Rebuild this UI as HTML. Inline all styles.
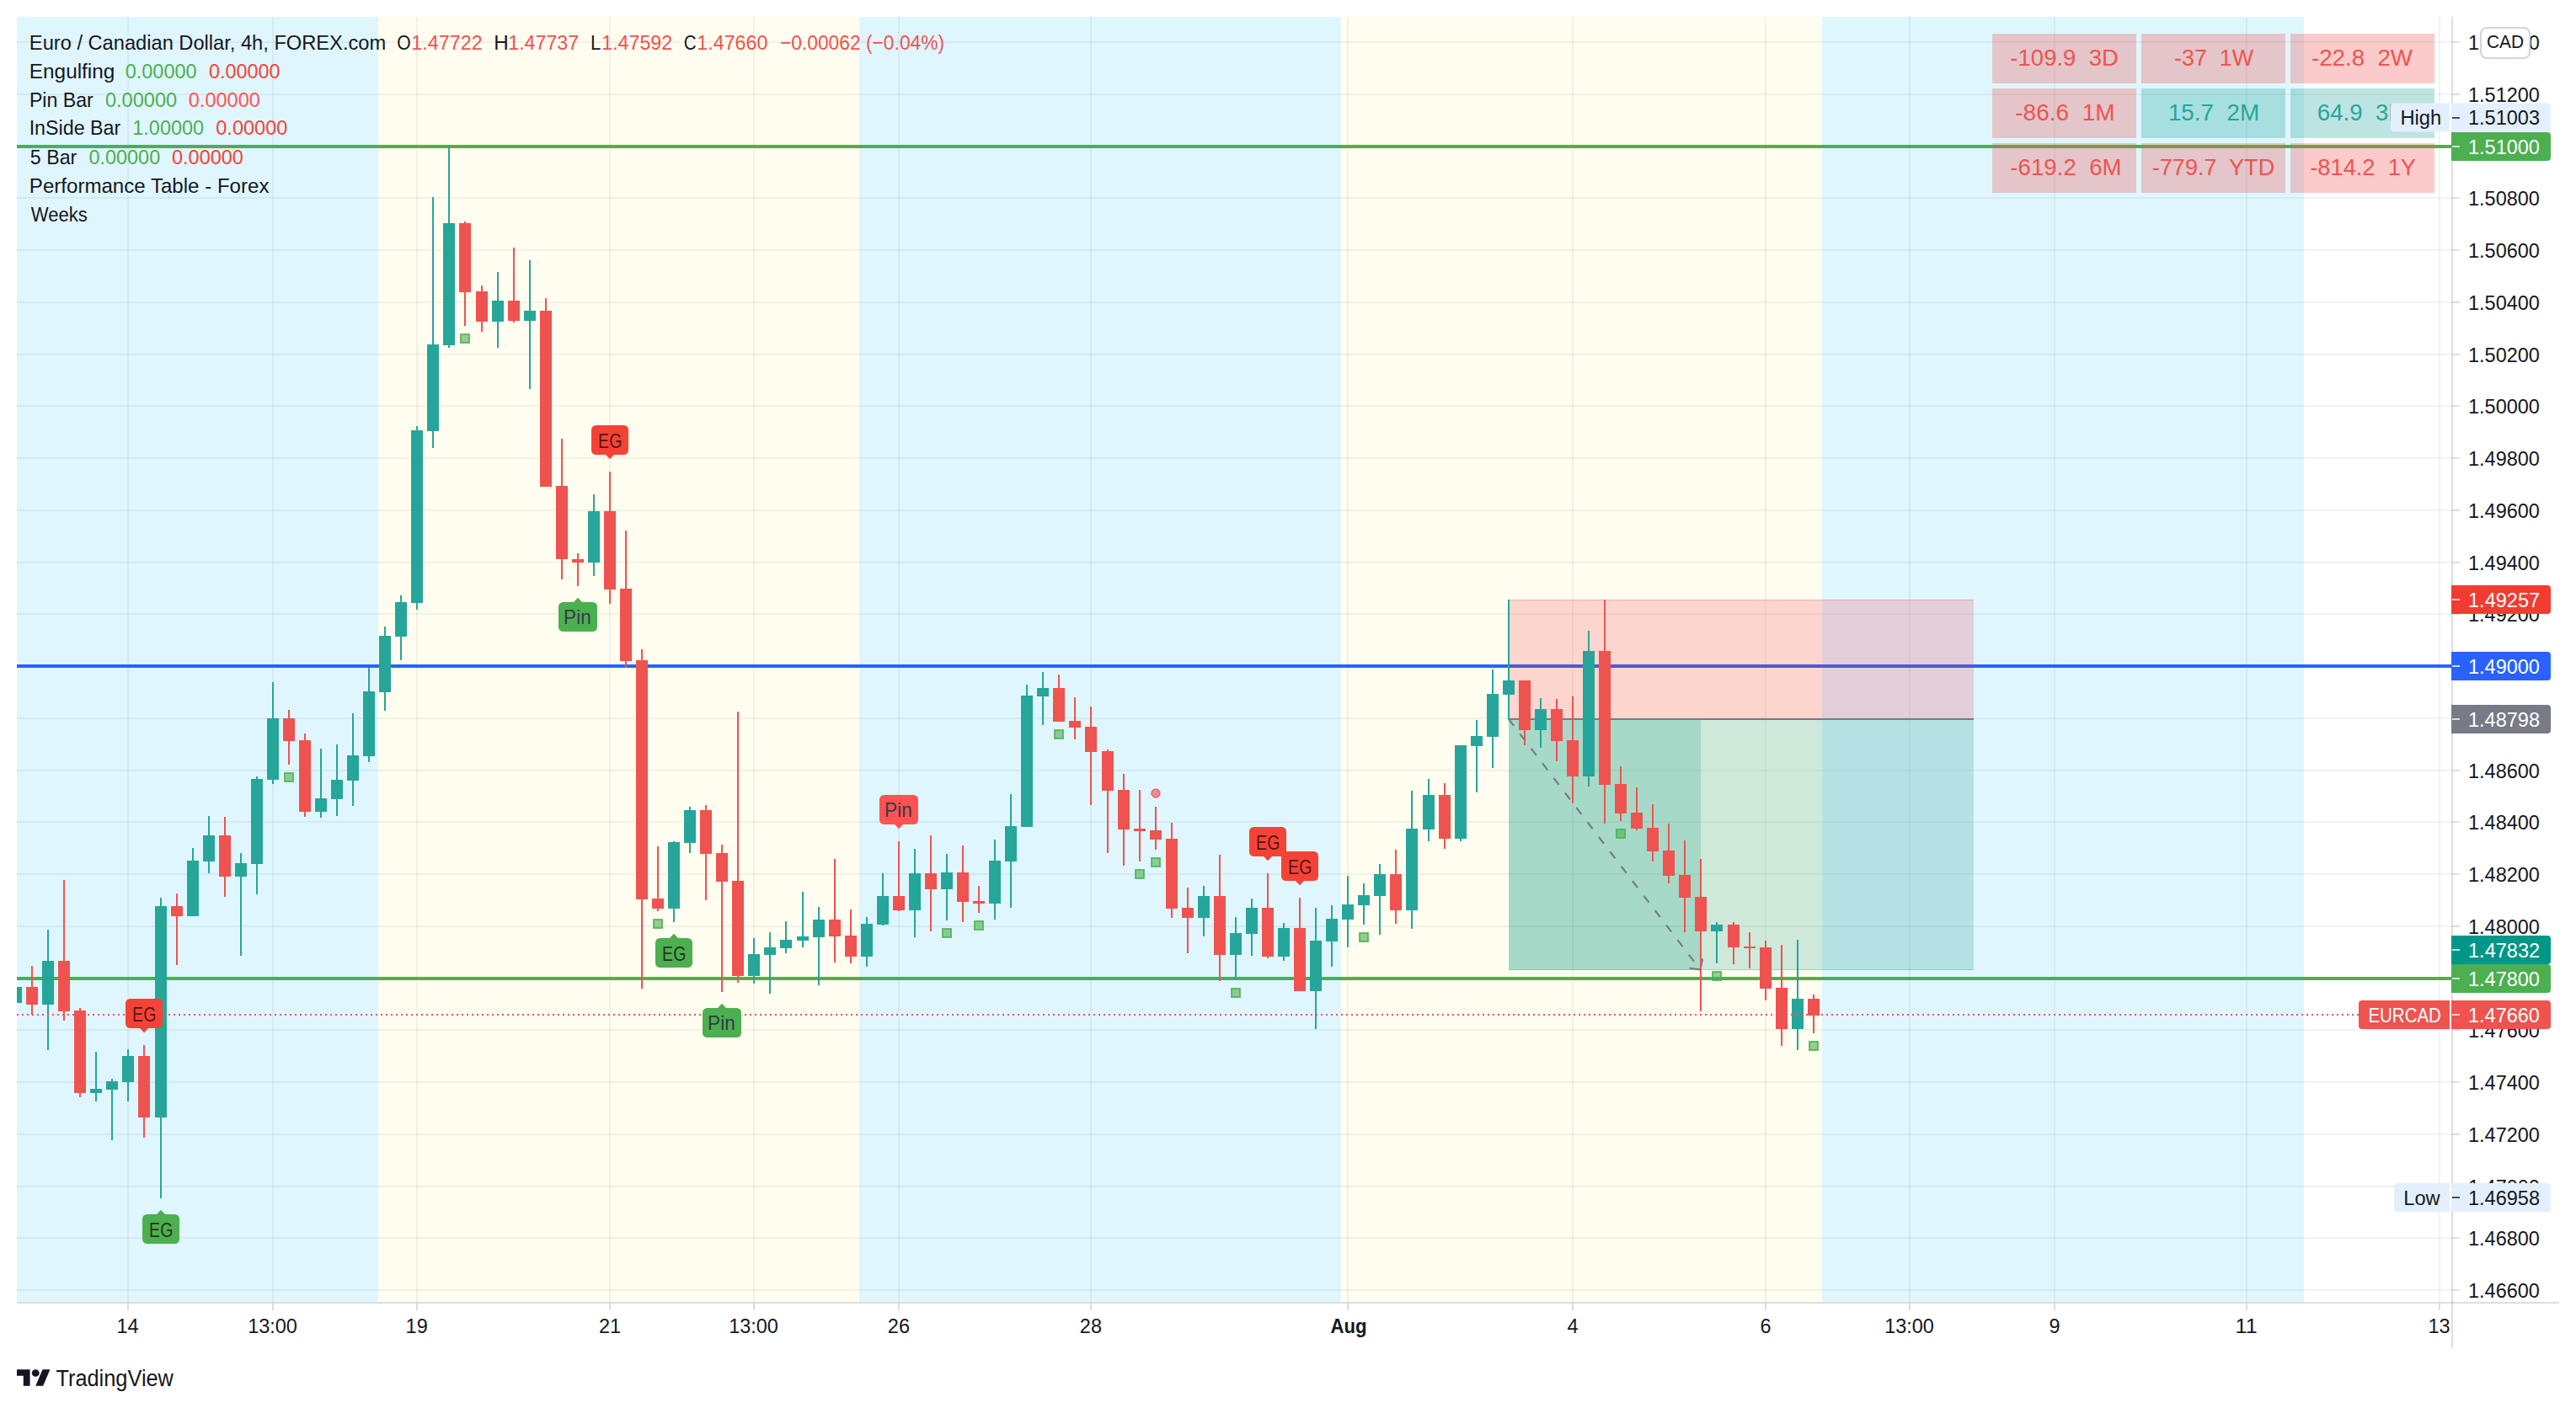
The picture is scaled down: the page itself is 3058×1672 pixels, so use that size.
<!DOCTYPE html>
<html lang="en"><head><meta charset="utf-8"><title>EURCAD 4h chart</title>
<style>html,body{margin:0;padding:0;background:#fff}svg{display:block}</style></head>
<body>
<svg width="3058" height="1672" viewBox="0 0 3058 1672" font-family='"Liberation Sans", "DejaVu Sans", sans-serif'>
<defs><clipPath id="pane"><rect x="20" y="20" width="2891" height="1526"/></clipPath></defs>
<rect width="3058" height="1672" fill="#fff"/>
<g shape-rendering="crispEdges">
<rect x="20" y="20" width="429" height="1526" fill="#e0f6fe"/>
<rect x="449" y="20" width="571" height="1526" fill="#fffdf0"/>
<rect x="1020" y="20" width="572" height="1526" fill="#e0f6fe"/>
<rect x="1592" y="20" width="571" height="1526" fill="#fffdf0"/>
<rect x="2163" y="20" width="572" height="1526" fill="#e0f6fe"/>
<rect x="20" y="49" width="2892" height="2" fill="rgba(42,46,57,0.06)"/>
<rect x="20" y="111" width="2892" height="2" fill="rgba(42,46,57,0.06)"/>
<rect x="20" y="173" width="2892" height="2" fill="rgba(42,46,57,0.06)"/>
<rect x="20" y="234" width="2892" height="2" fill="rgba(42,46,57,0.06)"/>
<rect x="20" y="296" width="2892" height="2" fill="rgba(42,46,57,0.06)"/>
<rect x="20" y="358" width="2892" height="2" fill="rgba(42,46,57,0.06)"/>
<rect x="20" y="420" width="2892" height="2" fill="rgba(42,46,57,0.06)"/>
<rect x="20" y="481" width="2892" height="2" fill="rgba(42,46,57,0.06)"/>
<rect x="20" y="543" width="2892" height="2" fill="rgba(42,46,57,0.06)"/>
<rect x="20" y="605" width="2892" height="2" fill="rgba(42,46,57,0.06)"/>
<rect x="20" y="667" width="2892" height="2" fill="rgba(42,46,57,0.06)"/>
<rect x="20" y="728" width="2892" height="2" fill="rgba(42,46,57,0.06)"/>
<rect x="20" y="790" width="2892" height="2" fill="rgba(42,46,57,0.06)"/>
<rect x="20" y="852" width="2892" height="2" fill="rgba(42,46,57,0.06)"/>
<rect x="20" y="914" width="2892" height="2" fill="rgba(42,46,57,0.06)"/>
<rect x="20" y="975" width="2892" height="2" fill="rgba(42,46,57,0.06)"/>
<rect x="20" y="1037" width="2892" height="2" fill="rgba(42,46,57,0.06)"/>
<rect x="20" y="1099" width="2892" height="2" fill="rgba(42,46,57,0.06)"/>
<rect x="20" y="1161" width="2892" height="2" fill="rgba(42,46,57,0.06)"/>
<rect x="20" y="1222" width="2892" height="2" fill="rgba(42,46,57,0.06)"/>
<rect x="20" y="1284" width="2892" height="2" fill="rgba(42,46,57,0.06)"/>
<rect x="20" y="1346" width="2892" height="2" fill="rgba(42,46,57,0.06)"/>
<rect x="20" y="1408" width="2892" height="2" fill="rgba(42,46,57,0.06)"/>
<rect x="20" y="1469" width="2892" height="2" fill="rgba(42,46,57,0.06)"/>
<rect x="20" y="1531" width="2892" height="2" fill="rgba(42,46,57,0.06)"/>
<rect x="151" y="20" width="2" height="1528" fill="rgba(42,46,57,0.06)"/>
<rect x="323" y="20" width="2" height="1528" fill="rgba(42,46,57,0.06)"/>
<rect x="494" y="20" width="2" height="1528" fill="rgba(42,46,57,0.06)"/>
<rect x="723" y="20" width="2" height="1528" fill="rgba(42,46,57,0.06)"/>
<rect x="894" y="20" width="2" height="1528" fill="rgba(42,46,57,0.06)"/>
<rect x="1066" y="20" width="2" height="1528" fill="rgba(42,46,57,0.06)"/>
<rect x="1294" y="20" width="2" height="1528" fill="rgba(42,46,57,0.06)"/>
<rect x="1599" y="20" width="2" height="1528" fill="rgba(42,46,57,0.06)"/>
<rect x="1866" y="20" width="2" height="1528" fill="rgba(42,46,57,0.06)"/>
<rect x="2095" y="20" width="2" height="1528" fill="rgba(42,46,57,0.06)"/>
<rect x="2266" y="20" width="2" height="1528" fill="rgba(42,46,57,0.06)"/>
<rect x="2438" y="20" width="2" height="1528" fill="rgba(42,46,57,0.06)"/>
<rect x="2666" y="20" width="2" height="1528" fill="rgba(42,46,57,0.06)"/>
<rect x="2895" y="20" width="2" height="1528" fill="rgba(42,46,57,0.06)"/>
<rect x="20" y="172" width="2891" height="4" fill="#4caf50"/>
<rect x="20" y="789" width="2891" height="4" fill="#2962ff"/>
<rect x="20" y="1160" width="2891" height="4" fill="#4caf50"/>
<rect x="1791" y="712" width="552" height="142" fill="rgba(242,54,69,0.2)"/>
<rect x="1791" y="712" width="552" height="1" fill="rgba(242,54,69,0.25)"/>
<rect x="1791" y="854" width="552" height="298" fill="rgba(8,153,129,0.2)"/>
<rect x="1791" y="854" width="228" height="298" fill="rgba(8,153,129,0.2)"/>
<rect x="1791" y="1151" width="552" height="1" fill="rgba(8,153,129,0.25)"/>
<rect x="1791" y="853" width="552" height="2" fill="#787b86"/>
</g>
<path d="M1791 854 L2018.5 1151.5" stroke="#787b86" stroke-width="2.2" stroke-dasharray="10 12" fill="none"/>
<path d="M2005.5 1149.5 L2018.5 1151.5 L2021 1138.5" stroke="#787b86" stroke-width="2.2" fill="none"/>
<g clip-path="url(#pane)" shape-rendering="crispEdges">
<rect x="18" y="1172" width="2" height="19" fill="#26a69a"/>
<rect x="12" y="1172" width="14" height="19" fill="#26a69a"/>
<rect x="37" y="1147" width="2" height="58" fill="#ef5350"/>
<rect x="31" y="1172" width="14" height="21" fill="#ef5350"/>
<rect x="56" y="1104" width="2" height="143" fill="#26a69a"/>
<rect x="50" y="1141" width="14" height="52" fill="#26a69a"/>
<rect x="75" y="1045" width="2" height="167" fill="#ef5350"/>
<rect x="69" y="1141" width="14" height="60" fill="#ef5350"/>
<rect x="94" y="1197" width="2" height="106" fill="#ef5350"/>
<rect x="88" y="1200" width="14" height="98" fill="#ef5350"/>
<rect x="113" y="1249" width="2" height="59" fill="#26a69a"/>
<rect x="107" y="1293" width="14" height="5" fill="#26a69a"/>
<rect x="132" y="1281" width="2" height="73" fill="#26a69a"/>
<rect x="126" y="1284" width="14" height="10" fill="#26a69a"/>
<rect x="151" y="1246" width="2" height="62" fill="#26a69a"/>
<rect x="145" y="1254" width="14" height="31" fill="#26a69a"/>
<rect x="170" y="1241" width="2" height="110" fill="#ef5350"/>
<rect x="164" y="1254" width="14" height="73" fill="#ef5350"/>
<rect x="190" y="1066" width="2" height="357" fill="#26a69a"/>
<rect x="184" y="1076" width="14" height="251" fill="#26a69a"/>
<rect x="209" y="1061" width="2" height="85" fill="#ef5350"/>
<rect x="203" y="1076" width="14" height="12" fill="#ef5350"/>
<rect x="228" y="1007" width="2" height="81" fill="#26a69a"/>
<rect x="222" y="1022" width="14" height="66" fill="#26a69a"/>
<rect x="247" y="969" width="2" height="68" fill="#26a69a"/>
<rect x="241" y="992" width="14" height="31" fill="#26a69a"/>
<rect x="266" y="970" width="2" height="95" fill="#ef5350"/>
<rect x="260" y="992" width="14" height="49" fill="#ef5350"/>
<rect x="285" y="1013" width="2" height="122" fill="#26a69a"/>
<rect x="279" y="1025" width="14" height="16" fill="#26a69a"/>
<rect x="304" y="922" width="2" height="140" fill="#26a69a"/>
<rect x="298" y="925" width="14" height="101" fill="#26a69a"/>
<rect x="323" y="810" width="2" height="121" fill="#26a69a"/>
<rect x="317" y="853" width="14" height="73" fill="#26a69a"/>
<rect x="342" y="843" width="2" height="65" fill="#ef5350"/>
<rect x="336" y="853" width="14" height="27" fill="#ef5350"/>
<rect x="361" y="871" width="2" height="99" fill="#ef5350"/>
<rect x="355" y="879" width="14" height="85" fill="#ef5350"/>
<rect x="380" y="889" width="2" height="82" fill="#26a69a"/>
<rect x="374" y="948" width="14" height="16" fill="#26a69a"/>
<rect x="399" y="884" width="2" height="85" fill="#26a69a"/>
<rect x="393" y="926" width="14" height="23" fill="#26a69a"/>
<rect x="418" y="847" width="2" height="110" fill="#26a69a"/>
<rect x="412" y="897" width="14" height="30" fill="#26a69a"/>
<rect x="437" y="793" width="2" height="112" fill="#26a69a"/>
<rect x="431" y="821" width="14" height="77" fill="#26a69a"/>
<rect x="456" y="744" width="2" height="100" fill="#26a69a"/>
<rect x="450" y="755" width="14" height="67" fill="#26a69a"/>
<rect x="475" y="707" width="2" height="77" fill="#26a69a"/>
<rect x="469" y="715" width="14" height="41" fill="#26a69a"/>
<rect x="494" y="506" width="2" height="218" fill="#26a69a"/>
<rect x="488" y="511" width="14" height="205" fill="#26a69a"/>
<rect x="513" y="234" width="2" height="298" fill="#26a69a"/>
<rect x="507" y="409" width="14" height="103" fill="#26a69a"/>
<rect x="532" y="173" width="2" height="240" fill="#26a69a"/>
<rect x="526" y="265" width="14" height="145" fill="#26a69a"/>
<rect x="551" y="263" width="2" height="124" fill="#ef5350"/>
<rect x="545" y="265" width="14" height="82" fill="#ef5350"/>
<rect x="571" y="339" width="2" height="55" fill="#ef5350"/>
<rect x="565" y="346" width="14" height="36" fill="#ef5350"/>
<rect x="590" y="323" width="2" height="90" fill="#26a69a"/>
<rect x="584" y="357" width="14" height="25" fill="#26a69a"/>
<rect x="609" y="294" width="2" height="89" fill="#ef5350"/>
<rect x="603" y="357" width="14" height="24" fill="#ef5350"/>
<rect x="628" y="309" width="2" height="153" fill="#26a69a"/>
<rect x="622" y="369" width="14" height="12" fill="#26a69a"/>
<rect x="647" y="354" width="2" height="224" fill="#ef5350"/>
<rect x="641" y="369" width="14" height="209" fill="#ef5350"/>
<rect x="666" y="521" width="2" height="167" fill="#ef5350"/>
<rect x="660" y="577" width="14" height="87" fill="#ef5350"/>
<rect x="685" y="657" width="2" height="39" fill="#ef5350"/>
<rect x="679" y="664" width="14" height="4" fill="#ef5350"/>
<rect x="704" y="587" width="2" height="97" fill="#26a69a"/>
<rect x="698" y="607" width="14" height="61" fill="#26a69a"/>
<rect x="723" y="560" width="2" height="157" fill="#ef5350"/>
<rect x="717" y="607" width="14" height="93" fill="#ef5350"/>
<rect x="742" y="630" width="2" height="163" fill="#ef5350"/>
<rect x="736" y="699" width="14" height="86" fill="#ef5350"/>
<rect x="761" y="771" width="2" height="403" fill="#ef5350"/>
<rect x="755" y="784" width="14" height="284" fill="#ef5350"/>
<rect x="780" y="1005" width="2" height="77" fill="#ef5350"/>
<rect x="774" y="1067" width="14" height="12" fill="#ef5350"/>
<rect x="799" y="999" width="2" height="96" fill="#26a69a"/>
<rect x="793" y="1000" width="14" height="79" fill="#26a69a"/>
<rect x="818" y="958" width="2" height="55" fill="#26a69a"/>
<rect x="812" y="962" width="14" height="39" fill="#26a69a"/>
<rect x="837" y="956" width="2" height="113" fill="#ef5350"/>
<rect x="831" y="962" width="14" height="52" fill="#ef5350"/>
<rect x="856" y="1003" width="2" height="175" fill="#ef5350"/>
<rect x="850" y="1013" width="14" height="34" fill="#ef5350"/>
<rect x="875" y="845" width="2" height="322" fill="#ef5350"/>
<rect x="869" y="1046" width="14" height="113" fill="#ef5350"/>
<rect x="894" y="1114" width="2" height="54" fill="#26a69a"/>
<rect x="888" y="1133" width="14" height="26" fill="#26a69a"/>
<rect x="913" y="1107" width="2" height="73" fill="#26a69a"/>
<rect x="907" y="1125" width="14" height="9" fill="#26a69a"/>
<rect x="932" y="1094" width="2" height="38" fill="#26a69a"/>
<rect x="926" y="1116" width="14" height="10" fill="#26a69a"/>
<rect x="952" y="1059" width="2" height="66" fill="#26a69a"/>
<rect x="946" y="1112" width="14" height="5" fill="#26a69a"/>
<rect x="971" y="1077" width="2" height="93" fill="#26a69a"/>
<rect x="965" y="1092" width="14" height="21" fill="#26a69a"/>
<rect x="990" y="1020" width="2" height="123" fill="#ef5350"/>
<rect x="984" y="1092" width="14" height="20" fill="#ef5350"/>
<rect x="1009" y="1080" width="2" height="64" fill="#ef5350"/>
<rect x="1003" y="1111" width="14" height="25" fill="#ef5350"/>
<rect x="1028" y="1089" width="2" height="59" fill="#26a69a"/>
<rect x="1022" y="1097" width="14" height="39" fill="#26a69a"/>
<rect x="1047" y="1037" width="2" height="62" fill="#26a69a"/>
<rect x="1041" y="1064" width="14" height="34" fill="#26a69a"/>
<rect x="1066" y="999" width="2" height="83" fill="#ef5350"/>
<rect x="1060" y="1064" width="14" height="17" fill="#ef5350"/>
<rect x="1085" y="1008" width="2" height="105" fill="#26a69a"/>
<rect x="1079" y="1037" width="14" height="44" fill="#26a69a"/>
<rect x="1104" y="992" width="2" height="114" fill="#ef5350"/>
<rect x="1098" y="1037" width="14" height="19" fill="#ef5350"/>
<rect x="1123" y="1014" width="2" height="79" fill="#26a69a"/>
<rect x="1117" y="1036" width="14" height="20" fill="#26a69a"/>
<rect x="1142" y="1004" width="2" height="91" fill="#ef5350"/>
<rect x="1136" y="1036" width="14" height="35" fill="#ef5350"/>
<rect x="1161" y="1052" width="2" height="32" fill="#ef5350"/>
<rect x="1155" y="1070" width="14" height="3" fill="#ef5350"/>
<rect x="1180" y="997" width="2" height="95" fill="#26a69a"/>
<rect x="1174" y="1022" width="14" height="51" fill="#26a69a"/>
<rect x="1199" y="943" width="2" height="135" fill="#26a69a"/>
<rect x="1193" y="981" width="14" height="42" fill="#26a69a"/>
<rect x="1218" y="813" width="2" height="169" fill="#26a69a"/>
<rect x="1212" y="826" width="14" height="156" fill="#26a69a"/>
<rect x="1237" y="798" width="2" height="63" fill="#26a69a"/>
<rect x="1231" y="817" width="14" height="10" fill="#26a69a"/>
<rect x="1256" y="801" width="2" height="56" fill="#ef5350"/>
<rect x="1250" y="817" width="14" height="40" fill="#ef5350"/>
<rect x="1275" y="828" width="2" height="50" fill="#ef5350"/>
<rect x="1269" y="856" width="14" height="8" fill="#ef5350"/>
<rect x="1294" y="839" width="2" height="117" fill="#ef5350"/>
<rect x="1288" y="863" width="14" height="30" fill="#ef5350"/>
<rect x="1314" y="890" width="2" height="123" fill="#ef5350"/>
<rect x="1308" y="892" width="14" height="47" fill="#ef5350"/>
<rect x="1333" y="919" width="2" height="109" fill="#ef5350"/>
<rect x="1327" y="938" width="14" height="47" fill="#ef5350"/>
<rect x="1352" y="938" width="2" height="85" fill="#ef5350"/>
<rect x="1346" y="984" width="14" height="3" fill="#ef5350"/>
<rect x="1371" y="958" width="2" height="51" fill="#ef5350"/>
<rect x="1365" y="986" width="14" height="11" fill="#ef5350"/>
<rect x="1390" y="977" width="2" height="113" fill="#ef5350"/>
<rect x="1384" y="996" width="14" height="83" fill="#ef5350"/>
<rect x="1409" y="1054" width="2" height="78" fill="#ef5350"/>
<rect x="1403" y="1078" width="14" height="12" fill="#ef5350"/>
<rect x="1428" y="1052" width="2" height="60" fill="#26a69a"/>
<rect x="1422" y="1064" width="14" height="26" fill="#26a69a"/>
<rect x="1447" y="1015" width="2" height="150" fill="#ef5350"/>
<rect x="1441" y="1064" width="14" height="70" fill="#ef5350"/>
<rect x="1466" y="1089" width="2" height="74" fill="#26a69a"/>
<rect x="1460" y="1108" width="14" height="26" fill="#26a69a"/>
<rect x="1485" y="1067" width="2" height="68" fill="#26a69a"/>
<rect x="1479" y="1078" width="14" height="31" fill="#26a69a"/>
<rect x="1504" y="1037" width="2" height="101" fill="#ef5350"/>
<rect x="1498" y="1078" width="14" height="58" fill="#ef5350"/>
<rect x="1523" y="1096" width="2" height="45" fill="#26a69a"/>
<rect x="1517" y="1102" width="14" height="34" fill="#26a69a"/>
<rect x="1542" y="1066" width="2" height="111" fill="#ef5350"/>
<rect x="1536" y="1102" width="14" height="75" fill="#ef5350"/>
<rect x="1561" y="1078" width="2" height="144" fill="#26a69a"/>
<rect x="1555" y="1117" width="14" height="60" fill="#26a69a"/>
<rect x="1580" y="1075" width="2" height="73" fill="#26a69a"/>
<rect x="1574" y="1091" width="14" height="27" fill="#26a69a"/>
<rect x="1599" y="1040" width="2" height="85" fill="#26a69a"/>
<rect x="1593" y="1074" width="14" height="18" fill="#26a69a"/>
<rect x="1618" y="1049" width="2" height="49" fill="#26a69a"/>
<rect x="1612" y="1063" width="14" height="12" fill="#26a69a"/>
<rect x="1637" y="1026" width="2" height="84" fill="#26a69a"/>
<rect x="1631" y="1038" width="14" height="26" fill="#26a69a"/>
<rect x="1656" y="1009" width="2" height="88" fill="#ef5350"/>
<rect x="1650" y="1038" width="14" height="43" fill="#ef5350"/>
<rect x="1675" y="939" width="2" height="164" fill="#26a69a"/>
<rect x="1669" y="984" width="14" height="97" fill="#26a69a"/>
<rect x="1695" y="925" width="2" height="74" fill="#26a69a"/>
<rect x="1689" y="944" width="14" height="41" fill="#26a69a"/>
<rect x="1714" y="930" width="2" height="78" fill="#ef5350"/>
<rect x="1708" y="944" width="14" height="52" fill="#ef5350"/>
<rect x="1733" y="885" width="2" height="114" fill="#26a69a"/>
<rect x="1727" y="885" width="14" height="111" fill="#26a69a"/>
<rect x="1752" y="855" width="2" height="86" fill="#26a69a"/>
<rect x="1746" y="874" width="14" height="12" fill="#26a69a"/>
<rect x="1771" y="795" width="2" height="117" fill="#26a69a"/>
<rect x="1765" y="824" width="14" height="51" fill="#26a69a"/>
<rect x="1790" y="712" width="2" height="143" fill="#26a69a"/>
<rect x="1784" y="808" width="14" height="17" fill="#26a69a"/>
<rect x="1809" y="808" width="2" height="77" fill="#ef5350"/>
<rect x="1803" y="808" width="14" height="59" fill="#ef5350"/>
<rect x="1828" y="829" width="2" height="59" fill="#26a69a"/>
<rect x="1822" y="842" width="14" height="25" fill="#26a69a"/>
<rect x="1847" y="830" width="2" height="74" fill="#ef5350"/>
<rect x="1841" y="842" width="14" height="38" fill="#ef5350"/>
<rect x="1866" y="827" width="2" height="127" fill="#ef5350"/>
<rect x="1860" y="879" width="14" height="43" fill="#ef5350"/>
<rect x="1885" y="749" width="2" height="185" fill="#26a69a"/>
<rect x="1879" y="773" width="14" height="149" fill="#26a69a"/>
<rect x="1904" y="712" width="2" height="266" fill="#ef5350"/>
<rect x="1898" y="773" width="14" height="159" fill="#ef5350"/>
<rect x="1923" y="910" width="2" height="65" fill="#ef5350"/>
<rect x="1917" y="931" width="14" height="35" fill="#ef5350"/>
<rect x="1942" y="935" width="2" height="51" fill="#ef5350"/>
<rect x="1936" y="965" width="14" height="19" fill="#ef5350"/>
<rect x="1961" y="955" width="2" height="68" fill="#ef5350"/>
<rect x="1955" y="983" width="14" height="28" fill="#ef5350"/>
<rect x="1980" y="978" width="2" height="71" fill="#ef5350"/>
<rect x="1974" y="1010" width="14" height="30" fill="#ef5350"/>
<rect x="1999" y="998" width="2" height="109" fill="#ef5350"/>
<rect x="1993" y="1039" width="14" height="27" fill="#ef5350"/>
<rect x="2018" y="1020" width="2" height="181" fill="#ef5350"/>
<rect x="2012" y="1065" width="14" height="41" fill="#ef5350"/>
<rect x="2037" y="1095" width="2" height="49" fill="#26a69a"/>
<rect x="2031" y="1098" width="14" height="8" fill="#26a69a"/>
<rect x="2057" y="1095" width="2" height="50" fill="#ef5350"/>
<rect x="2051" y="1098" width="14" height="27" fill="#ef5350"/>
<rect x="2076" y="1107" width="2" height="43" fill="#ef5350"/>
<rect x="2070" y="1124" width="14" height="2" fill="#ef5350"/>
<rect x="2095" y="1117" width="2" height="71" fill="#ef5350"/>
<rect x="2089" y="1125" width="14" height="49" fill="#ef5350"/>
<rect x="2114" y="1122" width="2" height="120" fill="#ef5350"/>
<rect x="2108" y="1173" width="14" height="49" fill="#ef5350"/>
<rect x="2133" y="1116" width="2" height="131" fill="#26a69a"/>
<rect x="2127" y="1186" width="14" height="36" fill="#26a69a"/>
<rect x="2152" y="1181" width="2" height="46" fill="#ef5350"/>
<rect x="2146" y="1186" width="14" height="20" fill="#ef5350"/>
</g>
<path d="M20 1205 H2800" stroke="#ef5350" stroke-width="2" stroke-dasharray="2 4" shape-rendering="crispEdges"/>
<rect x="338" y="918" width="10" height="10" fill="rgba(76,175,80,0.6)" stroke="rgba(76,175,80,0.8)" stroke-width="2"/>
<rect x="547" y="397" width="10" height="10" fill="rgba(76,175,80,0.6)" stroke="rgba(76,175,80,0.8)" stroke-width="2"/>
<rect x="776" y="1092" width="10" height="10" fill="rgba(76,175,80,0.6)" stroke="rgba(76,175,80,0.8)" stroke-width="2"/>
<rect x="1119" y="1103" width="10" height="10" fill="rgba(76,175,80,0.6)" stroke="rgba(76,175,80,0.8)" stroke-width="2"/>
<rect x="1157" y="1094" width="10" height="10" fill="rgba(76,175,80,0.6)" stroke="rgba(76,175,80,0.8)" stroke-width="2"/>
<rect x="1252" y="867" width="10" height="10" fill="rgba(76,175,80,0.6)" stroke="rgba(76,175,80,0.8)" stroke-width="2"/>
<rect x="1348" y="1033" width="10" height="10" fill="rgba(76,175,80,0.6)" stroke="rgba(76,175,80,0.8)" stroke-width="2"/>
<rect x="1367" y="1019" width="10" height="10" fill="rgba(76,175,80,0.6)" stroke="rgba(76,175,80,0.8)" stroke-width="2"/>
<rect x="1462" y="1174" width="10" height="10" fill="rgba(76,175,80,0.6)" stroke="rgba(76,175,80,0.8)" stroke-width="2"/>
<rect x="1614" y="1108" width="10" height="10" fill="rgba(76,175,80,0.6)" stroke="rgba(76,175,80,0.8)" stroke-width="2"/>
<rect x="1919" y="985" width="10" height="10" fill="rgba(76,175,80,0.6)" stroke="rgba(76,175,80,0.8)" stroke-width="2"/>
<rect x="2033" y="1154" width="10" height="10" fill="rgba(76,175,80,0.6)" stroke="rgba(76,175,80,0.8)" stroke-width="2"/>
<rect x="2148" y="1237" width="10" height="10" fill="rgba(76,175,80,0.6)" stroke="rgba(76,175,80,0.8)" stroke-width="2"/>
<circle cx="1372" cy="942" r="5" fill="rgba(239,83,80,0.65)" stroke="rgba(239,83,80,0.8)" stroke-width="1.5"/>
<rect x="149.0" y="1186" width="44" height="35" rx="5.5" fill="#f44336"/>
<path d="M165.5 1220.5 L171 1226.2 L176.5 1220.5 Z" fill="#f44336"/>
<text x="157.1" y="1212.7" font-size="24" fill="rgba(20,0,0,0.72)" style="white-space:pre" textLength="28.27" lengthAdjust="spacingAndGlyphs">EG</text>
<rect x="169.0" y="1442" width="44" height="35" rx="5.5" fill="#4caf50"/>
<path d="M185.5 1442.5 L191 1436.8 L196.5 1442.5 Z" fill="#4caf50"/>
<text x="177.1" y="1468.7" font-size="24" fill="rgba(20,0,0,0.72)" style="white-space:pre" textLength="28.27" lengthAdjust="spacingAndGlyphs">EG</text>
<rect x="702.0" y="505" width="44" height="35" rx="5.5" fill="#f44336"/>
<path d="M718.5 539.5 L724 545.2 L729.5 539.5 Z" fill="#f44336"/>
<text x="710.1" y="531.7" font-size="24" fill="rgba(20,0,0,0.72)" style="white-space:pre" textLength="28.27" lengthAdjust="spacingAndGlyphs">EG</text>
<rect x="663.0" y="715" width="46" height="35" rx="5.5" fill="#4caf50"/>
<path d="M680.5 715.5 L686 709.8 L691.5 715.5 Z" fill="#4caf50"/>
<text x="669.1" y="741.3" font-size="24" fill="#363a45" style="white-space:pre" textLength="32.62" lengthAdjust="spacingAndGlyphs">Pin</text>
<rect x="778.0" y="1114" width="44" height="35" rx="5.5" fill="#4caf50"/>
<path d="M794.5 1114.5 L800 1108.8 L805.5 1114.5 Z" fill="#4caf50"/>
<text x="786.1" y="1140.7" font-size="24" fill="rgba(20,0,0,0.72)" style="white-space:pre" textLength="28.27" lengthAdjust="spacingAndGlyphs">EG</text>
<rect x="834.0" y="1197" width="46" height="35" rx="5.5" fill="#4caf50"/>
<path d="M851.5 1197.5 L857 1191.8 L862.5 1197.5 Z" fill="#4caf50"/>
<text x="840.1" y="1223.3" font-size="24" fill="#363a45" style="white-space:pre" textLength="32.62" lengthAdjust="spacingAndGlyphs">Pin</text>
<rect x="1044.0" y="944" width="46" height="35" rx="5.5" fill="#ff5252"/>
<path d="M1061.5 978.5 L1067 984.2 L1072.5 978.5 Z" fill="#ff5252"/>
<text x="1050.1" y="970.3" font-size="24" fill="#363a45" style="white-space:pre" textLength="32.62" lengthAdjust="spacingAndGlyphs">Pin</text>
<rect x="1483.0" y="982" width="44" height="35" rx="5.5" fill="#f44336"/>
<path d="M1499.5 1016.5 L1505 1022.2 L1510.5 1016.5 Z" fill="#f44336"/>
<text x="1491.1" y="1008.7" font-size="24" fill="rgba(20,0,0,0.72)" style="white-space:pre" textLength="28.27" lengthAdjust="spacingAndGlyphs">EG</text>
<rect x="1521.0" y="1011" width="44" height="35" rx="5.5" fill="#f44336"/>
<path d="M1537.5 1045.5 L1543 1051.2 L1548.5 1045.5 Z" fill="#f44336"/>
<text x="1529.1" y="1037.7" font-size="24" fill="rgba(20,0,0,0.72)" style="white-space:pre" textLength="28.27" lengthAdjust="spacingAndGlyphs">EG</text>
<rect x="2365" y="40" width="171" height="59" fill="rgba(239,83,80,0.3)" shape-rendering="crispEdges"/>
<text x="2386.38" y="78.4" font-size="27" fill="#ef5350" style="white-space:pre" textLength="128.44" lengthAdjust="spacingAndGlyphs">-109.9  3D</text>
<rect x="2542" y="40" width="171" height="59" fill="rgba(239,83,80,0.3)" shape-rendering="crispEdges"/>
<text x="2581.01" y="78.4" font-size="27" fill="#ef5350" style="white-space:pre" textLength="94.09" lengthAdjust="spacingAndGlyphs">-37  1W</text>
<rect x="2719" y="40" width="171" height="59" fill="rgba(239,83,80,0.3)" shape-rendering="crispEdges"/>
<text x="2743.97" y="78.4" font-size="27" fill="#ef5350" style="white-space:pre" textLength="120.02" lengthAdjust="spacingAndGlyphs">-22.8  2W</text>
<rect x="2365" y="105" width="171" height="59" fill="rgba(239,83,80,0.3)" shape-rendering="crispEdges"/>
<text x="2392.26" y="143.4" font-size="27" fill="#ef5350" style="white-space:pre" textLength="118.34" lengthAdjust="spacingAndGlyphs">-86.6  1M</text>
<rect x="2542" y="105" width="171" height="59" fill="rgba(38,166,154,0.3)" shape-rendering="crispEdges"/>
<text x="2573.88" y="143.4" font-size="27" fill="#26a69a" style="white-space:pre" textLength="108.2" lengthAdjust="spacingAndGlyphs">15.7  2M</text>
<rect x="2719" y="105" width="171" height="59" fill="rgba(38,166,154,0.3)" shape-rendering="crispEdges"/>
<text x="2750.8" y="143.4" font-size="27" fill="#26a69a" style="white-space:pre" textLength="107.47" lengthAdjust="spacingAndGlyphs">64.9  3M</text>
<rect x="2365" y="170" width="171" height="59" fill="rgba(239,83,80,0.3)" shape-rendering="crispEdges"/>
<text x="2386.37" y="208.4" font-size="27" fill="#ef5350" style="white-space:pre" textLength="132.2" lengthAdjust="spacingAndGlyphs">-619.2  6M</text>
<rect x="2542" y="170" width="171" height="59" fill="rgba(239,83,80,0.3)" shape-rendering="crispEdges"/>
<text x="2554.8" y="208.4" font-size="27" fill="#ef5350" style="white-space:pre" textLength="145.39" lengthAdjust="spacingAndGlyphs">-779.7  YTD</text>
<rect x="2719" y="170" width="171" height="59" fill="rgba(239,83,80,0.3)" shape-rendering="crispEdges"/>
<text x="2742.29" y="208.4" font-size="27" fill="#ef5350" style="white-space:pre" textLength="125.71" lengthAdjust="spacingAndGlyphs">-814.2  1Y</text>
<rect x="2910" y="20" width="2" height="1581" fill="rgba(40,44,60,0.155)" shape-rendering="crispEdges"/>
<rect x="20" y="1546" width="3018" height="2" fill="rgba(40,44,60,0.155)" shape-rendering="crispEdges"/>
<rect x="2912" y="49" width="8" height="2" fill="rgba(40,44,60,0.155)" shape-rendering="crispEdges"/>
<text x="2930.01" y="58.7" font-size="24.2" fill="#131722" style="white-space:pre" textLength="84.91" lengthAdjust="spacingAndGlyphs">1.51400</text>
<rect x="2912" y="111" width="8" height="2" fill="rgba(40,44,60,0.155)" shape-rendering="crispEdges"/>
<text x="2930.01" y="120.7" font-size="24.2" fill="#131722" style="white-space:pre" textLength="84.91" lengthAdjust="spacingAndGlyphs">1.51200</text>
<rect x="2912" y="173" width="8" height="2" fill="rgba(40,44,60,0.155)" shape-rendering="crispEdges"/>
<text x="2930.01" y="182.7" font-size="24.2" fill="#131722" style="white-space:pre" textLength="84.91" lengthAdjust="spacingAndGlyphs">1.51000</text>
<rect x="2912" y="234" width="8" height="2" fill="rgba(40,44,60,0.155)" shape-rendering="crispEdges"/>
<text x="2930.01" y="243.7" font-size="24.2" fill="#131722" style="white-space:pre" textLength="84.91" lengthAdjust="spacingAndGlyphs">1.50800</text>
<rect x="2912" y="296" width="8" height="2" fill="rgba(40,44,60,0.155)" shape-rendering="crispEdges"/>
<text x="2930.01" y="305.7" font-size="24.2" fill="#131722" style="white-space:pre" textLength="84.91" lengthAdjust="spacingAndGlyphs">1.50600</text>
<rect x="2912" y="358" width="8" height="2" fill="rgba(40,44,60,0.155)" shape-rendering="crispEdges"/>
<text x="2930.01" y="367.7" font-size="24.2" fill="#131722" style="white-space:pre" textLength="84.91" lengthAdjust="spacingAndGlyphs">1.50400</text>
<rect x="2912" y="420" width="8" height="2" fill="rgba(40,44,60,0.155)" shape-rendering="crispEdges"/>
<text x="2930.01" y="429.7" font-size="24.2" fill="#131722" style="white-space:pre" textLength="84.91" lengthAdjust="spacingAndGlyphs">1.50200</text>
<rect x="2912" y="481" width="8" height="2" fill="rgba(40,44,60,0.155)" shape-rendering="crispEdges"/>
<text x="2930.01" y="490.7" font-size="24.2" fill="#131722" style="white-space:pre" textLength="84.91" lengthAdjust="spacingAndGlyphs">1.50000</text>
<rect x="2912" y="543" width="8" height="2" fill="rgba(40,44,60,0.155)" shape-rendering="crispEdges"/>
<text x="2930.01" y="552.7" font-size="24.2" fill="#131722" style="white-space:pre" textLength="84.91" lengthAdjust="spacingAndGlyphs">1.49800</text>
<rect x="2912" y="605" width="8" height="2" fill="rgba(40,44,60,0.155)" shape-rendering="crispEdges"/>
<text x="2930.01" y="614.7" font-size="24.2" fill="#131722" style="white-space:pre" textLength="84.91" lengthAdjust="spacingAndGlyphs">1.49600</text>
<rect x="2912" y="667" width="8" height="2" fill="rgba(40,44,60,0.155)" shape-rendering="crispEdges"/>
<text x="2930.01" y="676.7" font-size="24.2" fill="#131722" style="white-space:pre" textLength="84.91" lengthAdjust="spacingAndGlyphs">1.49400</text>
<rect x="2912" y="728" width="8" height="2" fill="rgba(40,44,60,0.155)" shape-rendering="crispEdges"/>
<text x="2930.01" y="737.7" font-size="24.2" fill="#131722" style="white-space:pre" textLength="84.91" lengthAdjust="spacingAndGlyphs">1.49200</text>
<rect x="2912" y="790" width="8" height="2" fill="rgba(40,44,60,0.155)" shape-rendering="crispEdges"/>
<text x="2930.01" y="799.7" font-size="24.2" fill="#131722" style="white-space:pre" textLength="84.91" lengthAdjust="spacingAndGlyphs">1.49000</text>
<rect x="2912" y="852" width="8" height="2" fill="rgba(40,44,60,0.155)" shape-rendering="crispEdges"/>
<text x="2930.01" y="861.7" font-size="24.2" fill="#131722" style="white-space:pre" textLength="84.91" lengthAdjust="spacingAndGlyphs">1.48800</text>
<rect x="2912" y="914" width="8" height="2" fill="rgba(40,44,60,0.155)" shape-rendering="crispEdges"/>
<text x="2930.01" y="923.7" font-size="24.2" fill="#131722" style="white-space:pre" textLength="84.91" lengthAdjust="spacingAndGlyphs">1.48600</text>
<rect x="2912" y="975" width="8" height="2" fill="rgba(40,44,60,0.155)" shape-rendering="crispEdges"/>
<text x="2930.01" y="984.7" font-size="24.2" fill="#131722" style="white-space:pre" textLength="84.91" lengthAdjust="spacingAndGlyphs">1.48400</text>
<rect x="2912" y="1037" width="8" height="2" fill="rgba(40,44,60,0.155)" shape-rendering="crispEdges"/>
<text x="2930.01" y="1046.7" font-size="24.2" fill="#131722" style="white-space:pre" textLength="84.91" lengthAdjust="spacingAndGlyphs">1.48200</text>
<rect x="2912" y="1099" width="8" height="2" fill="rgba(40,44,60,0.155)" shape-rendering="crispEdges"/>
<text x="2930.01" y="1108.7" font-size="24.2" fill="#131722" style="white-space:pre" textLength="84.91" lengthAdjust="spacingAndGlyphs">1.48000</text>
<rect x="2912" y="1161" width="8" height="2" fill="rgba(40,44,60,0.155)" shape-rendering="crispEdges"/>
<text x="2930.01" y="1170.7" font-size="24.2" fill="#131722" style="white-space:pre" textLength="84.91" lengthAdjust="spacingAndGlyphs">1.47800</text>
<rect x="2912" y="1222" width="8" height="2" fill="rgba(40,44,60,0.155)" shape-rendering="crispEdges"/>
<text x="2930.01" y="1231.7" font-size="24.2" fill="#131722" style="white-space:pre" textLength="84.91" lengthAdjust="spacingAndGlyphs">1.47600</text>
<rect x="2912" y="1284" width="8" height="2" fill="rgba(40,44,60,0.155)" shape-rendering="crispEdges"/>
<text x="2930.01" y="1293.7" font-size="24.2" fill="#131722" style="white-space:pre" textLength="84.91" lengthAdjust="spacingAndGlyphs">1.47400</text>
<rect x="2912" y="1346" width="8" height="2" fill="rgba(40,44,60,0.155)" shape-rendering="crispEdges"/>
<text x="2930.01" y="1355.7" font-size="24.2" fill="#131722" style="white-space:pre" textLength="84.91" lengthAdjust="spacingAndGlyphs">1.47200</text>
<rect x="2912" y="1408" width="8" height="2" fill="rgba(40,44,60,0.155)" shape-rendering="crispEdges"/>
<text x="2930.01" y="1417.7" font-size="24.2" fill="#131722" style="white-space:pre" textLength="84.91" lengthAdjust="spacingAndGlyphs">1.47000</text>
<rect x="2912" y="1469" width="8" height="2" fill="rgba(40,44,60,0.155)" shape-rendering="crispEdges"/>
<text x="2930.01" y="1478.7" font-size="24.2" fill="#131722" style="white-space:pre" textLength="84.91" lengthAdjust="spacingAndGlyphs">1.46800</text>
<rect x="2912" y="1531" width="8" height="2" fill="rgba(40,44,60,0.155)" shape-rendering="crispEdges"/>
<text x="2930.01" y="1540.7" font-size="24.2" fill="#131722" style="white-space:pre" textLength="84.91" lengthAdjust="spacingAndGlyphs">1.46600</text>
<rect x="2945" y="33" width="58" height="36" rx="7" fill="#fff" stroke="#d1d4dc" stroke-width="2"/>
<text x="2951.94" y="56.8" font-size="22" fill="#131722" style="white-space:pre" textLength="44.06" lengthAdjust="spacingAndGlyphs">CAD</text>
<path d="M2910 122.5 H3024 a4 4 0 0 1 4 4 V152.5 a4 4 0 0 1 -4 4 H2910 Z" fill="#e3effd"/>
<rect x="2911" y="138.5" width="9" height="2" fill="#131722" opacity="0.75" shape-rendering="crispEdges"/>
<text x="2930.01" y="148.2" font-size="24.2" fill="#131722" style="white-space:pre" textLength="85.03" lengthAdjust="spacingAndGlyphs">1.51003</text>
<path d="M2908 122.5 H2842 a4 4 0 0 0 -4 4 V152.5 a4 4 0 0 0 4 4 H2908 Z" fill="#e3effd"/>
<text x="2849.4" y="148.2" font-size="24.2" fill="#131722" style="white-space:pre" textLength="48.79" lengthAdjust="spacingAndGlyphs">High</text>
<path d="M2910 157.0 H3024 a4 4 0 0 1 4 4 V187.0 a4 4 0 0 1 -4 4 H2910 Z" fill="#4caf50"/>
<rect x="2911" y="173" width="9" height="2" fill="#fff" opacity="0.75" shape-rendering="crispEdges"/>
<text x="2930.01" y="182.7" font-size="24.2" fill="#fff" style="white-space:pre" textLength="84.91" lengthAdjust="spacingAndGlyphs">1.51000</text>
<path d="M2910 695.0 H3024 a4 4 0 0 1 4 4 V725.0 a4 4 0 0 1 -4 4 H2910 Z" fill="#f23c32"/>
<rect x="2911" y="711" width="9" height="2" fill="#fff" opacity="0.75" shape-rendering="crispEdges"/>
<text x="2930.01" y="720.7" font-size="24.2" fill="#fff" style="white-space:pre" textLength="85.18" lengthAdjust="spacingAndGlyphs">1.49257</text>
<path d="M2910 774.0 H3024 a4 4 0 0 1 4 4 V804.0 a4 4 0 0 1 -4 4 H2910 Z" fill="#2962ff"/>
<rect x="2911" y="790" width="9" height="2" fill="#fff" opacity="0.75" shape-rendering="crispEdges"/>
<text x="2930.01" y="799.7" font-size="24.2" fill="#fff" style="white-space:pre" textLength="84.91" lengthAdjust="spacingAndGlyphs">1.49000</text>
<path d="M2910 837.0 H3024 a4 4 0 0 1 4 4 V867.0 a4 4 0 0 1 -4 4 H2910 Z" fill="#787b86"/>
<rect x="2911" y="853" width="9" height="2" fill="#fff" opacity="0.75" shape-rendering="crispEdges"/>
<text x="2930.01" y="862.7" font-size="24.2" fill="#fff" style="white-space:pre" textLength="85.01" lengthAdjust="spacingAndGlyphs">1.48798</text>
<path d="M2910 1111.0 H3024 a4 4 0 0 1 4 4 V1141.0 a4 4 0 0 1 -4 4 H2910 Z" fill="#009688"/>
<rect x="2911" y="1127" width="9" height="2" fill="#fff" opacity="0.75" shape-rendering="crispEdges"/>
<text x="2930.01" y="1136.7" font-size="24.2" fill="#fff" style="white-space:pre" textLength="85.18" lengthAdjust="spacingAndGlyphs">1.47832</text>
<path d="M2910 1145.0 H3024 a4 4 0 0 1 4 4 V1175.0 a4 4 0 0 1 -4 4 H2910 Z" fill="#4caf50"/>
<rect x="2911" y="1161" width="9" height="2" fill="#fff" opacity="0.75" shape-rendering="crispEdges"/>
<text x="2930.01" y="1170.7" font-size="24.2" fill="#fff" style="white-space:pre" textLength="84.91" lengthAdjust="spacingAndGlyphs">1.47800</text>
<path d="M2910 1188.0 H3024 a4 4 0 0 1 4 4 V1218.0 a4 4 0 0 1 -4 4 H2910 Z" fill="#ef5350"/>
<rect x="2911" y="1204" width="9" height="2" fill="#fff" opacity="0.75" shape-rendering="crispEdges"/>
<text x="2930.01" y="1213.7" font-size="24.2" fill="#fff" style="white-space:pre" textLength="84.91" lengthAdjust="spacingAndGlyphs">1.47660</text>
<path d="M2908 1188.0 H2804 a4 4 0 0 0 -4 4 V1218.0 a4 4 0 0 0 4 4 H2908 Z" fill="#ef5350"/>
<text x="2811.42" y="1213.7" font-size="24.2" fill="#fff" style="white-space:pre" textLength="86.46" lengthAdjust="spacingAndGlyphs">EURCAD</text>
<path d="M2910 1405.0 H3024 a4 4 0 0 1 4 4 V1435.0 a4 4 0 0 1 -4 4 H2910 Z" fill="#e3effd"/>
<rect x="2911" y="1421" width="9" height="2" fill="#131722" opacity="0.75" shape-rendering="crispEdges"/>
<text x="2930.01" y="1430.7" font-size="24.2" fill="#131722" style="white-space:pre" textLength="85.01" lengthAdjust="spacingAndGlyphs">1.46958</text>
<path d="M2908 1405.0 H2846 a4 4 0 0 0 -4 4 V1435.0 a4 4 0 0 0 4 4 H2908 Z" fill="#e3effd"/>
<text x="2853.31" y="1430.7" font-size="24.2" fill="#131722" style="white-space:pre" textLength="43.38" lengthAdjust="spacingAndGlyphs">Low</text>
<rect x="151" y="1548" width="2" height="8" fill="rgba(40,44,60,0.155)" shape-rendering="crispEdges"/>
<text x="138.39" y="1582.8" font-size="24.2" fill="#131722" style="white-space:pre" textLength="26.11" lengthAdjust="spacingAndGlyphs">14</text>
<rect x="323" y="1548" width="2" height="8" fill="rgba(40,44,60,0.155)" shape-rendering="crispEdges"/>
<text x="294.19" y="1582.8" font-size="24.2" fill="#131722" style="white-space:pre" textLength="58.74" lengthAdjust="spacingAndGlyphs">13:00</text>
<rect x="494" y="1548" width="2" height="8" fill="rgba(40,44,60,0.155)" shape-rendering="crispEdges"/>
<text x="481.61" y="1582.8" font-size="24.2" fill="#131722" style="white-space:pre" textLength="26.11" lengthAdjust="spacingAndGlyphs">19</text>
<rect x="723" y="1548" width="2" height="8" fill="rgba(40,44,60,0.155)" shape-rendering="crispEdges"/>
<text x="710.93" y="1582.8" font-size="24.2" fill="#131722" style="white-space:pre" textLength="26.11" lengthAdjust="spacingAndGlyphs">21</text>
<rect x="894" y="1548" width="2" height="8" fill="rgba(40,44,60,0.155)" shape-rendering="crispEdges"/>
<text x="865.19" y="1582.8" font-size="24.2" fill="#131722" style="white-space:pre" textLength="58.74" lengthAdjust="spacingAndGlyphs">13:00</text>
<rect x="1066" y="1548" width="2" height="8" fill="rgba(40,44,60,0.155)" shape-rendering="crispEdges"/>
<text x="1053.87" y="1582.8" font-size="24.2" fill="#131722" style="white-space:pre" textLength="26.11" lengthAdjust="spacingAndGlyphs">26</text>
<rect x="1294" y="1548" width="2" height="8" fill="rgba(40,44,60,0.155)" shape-rendering="crispEdges"/>
<text x="1281.86" y="1582.8" font-size="24.2" fill="#131722" style="white-space:pre" textLength="26.11" lengthAdjust="spacingAndGlyphs">28</text>
<rect x="1599" y="1548" width="2" height="8" fill="rgba(40,44,60,0.155)" shape-rendering="crispEdges"/>
<text x="1579.45" y="1582.8" font-size="24.2" fill="#131722" style="white-space:pre" textLength="43.03" lengthAdjust="spacingAndGlyphs" font-weight="bold">Aug</text>
<rect x="1866" y="1548" width="2" height="8" fill="rgba(40,44,60,0.155)" shape-rendering="crispEdges"/>
<text x="1860.55" y="1582.8" font-size="24.2" fill="#131722" style="white-space:pre" textLength="13.06" lengthAdjust="spacingAndGlyphs">4</text>
<rect x="2095" y="1548" width="2" height="8" fill="rgba(40,44,60,0.155)" shape-rendering="crispEdges"/>
<text x="2089.39" y="1582.8" font-size="24.2" fill="#131722" style="white-space:pre" textLength="13.06" lengthAdjust="spacingAndGlyphs">6</text>
<rect x="2266" y="1548" width="2" height="8" fill="rgba(40,44,60,0.155)" shape-rendering="crispEdges"/>
<text x="2237.19" y="1582.8" font-size="24.2" fill="#131722" style="white-space:pre" textLength="58.74" lengthAdjust="spacingAndGlyphs">13:00</text>
<rect x="2438" y="1548" width="2" height="8" fill="rgba(40,44,60,0.155)" shape-rendering="crispEdges"/>
<text x="2432.48" y="1582.8" font-size="24.2" fill="#131722" style="white-space:pre" textLength="13.06" lengthAdjust="spacingAndGlyphs">9</text>
<rect x="2666" y="1548" width="2" height="8" fill="rgba(40,44,60,0.155)" shape-rendering="crispEdges"/>
<text x="2653.62" y="1582.8" font-size="24.2" fill="#131722" style="white-space:pre" textLength="26.11" lengthAdjust="spacingAndGlyphs">11</text>
<rect x="2895" y="1548" width="2" height="8" fill="rgba(40,44,60,0.155)" shape-rendering="crispEdges"/>
<text x="2882.57" y="1582.8" font-size="24.2" fill="#131722" style="white-space:pre" textLength="26.11" lengthAdjust="spacingAndGlyphs">13</text>
<text x="34.87" y="58.9" font-size="24.2" fill="#131722" style="white-space:pre" textLength="423.29" lengthAdjust="spacingAndGlyphs">Euro / Canadian Dollar, 4h, FOREX.com</text>
<text x="471.3" y="58.9" font-size="24.2" fill="#131722" style="white-space:pre" textLength="16.41" lengthAdjust="spacingAndGlyphs">O</text>
<text x="488.22" y="58.9" font-size="24.2" fill="#ef5350" style="white-space:pre" textLength="84.45" lengthAdjust="spacingAndGlyphs">1.47722</text>
<text x="586.32" y="58.9" font-size="24.2" fill="#131722" style="white-space:pre" textLength="17.45" lengthAdjust="spacingAndGlyphs">H</text>
<text x="603.23" y="58.9" font-size="24.2" fill="#ef5350" style="white-space:pre" textLength="83.94" lengthAdjust="spacingAndGlyphs">1.47737</text>
<text x="700.98" y="58.9" font-size="24.2" fill="#131722" style="white-space:pre" textLength="12.36" lengthAdjust="spacingAndGlyphs">L</text>
<text x="714.23" y="58.9" font-size="24.2" fill="#ef5350" style="white-space:pre" textLength="83.94" lengthAdjust="spacingAndGlyphs">1.47592</text>
<text x="811.76" y="58.9" font-size="24.2" fill="#131722" style="white-space:pre" textLength="14.82" lengthAdjust="spacingAndGlyphs">C</text>
<text x="827.22" y="58.9" font-size="24.2" fill="#ef5350" style="white-space:pre" textLength="84.29" lengthAdjust="spacingAndGlyphs">1.47660</text>
<text x="925.88" y="58.9" font-size="24.2" fill="#ef5350" style="white-space:pre" textLength="195.24" lengthAdjust="spacingAndGlyphs">−0.00062 (−0.04%)</text>
<text x="34.8" y="92.7" font-size="24.2" fill="#131722" style="white-space:pre" textLength="101.57" lengthAdjust="spacingAndGlyphs">Engulfing</text>
<text x="148.68" y="92.7" font-size="24.2" fill="#4caf50" style="white-space:pre" textLength="84.94" lengthAdjust="spacingAndGlyphs">0.00000</text>
<text x="248.09" y="92.7" font-size="24.2" fill="#f44336" style="white-space:pre" textLength="84.53" lengthAdjust="spacingAndGlyphs">0.00000</text>
<text x="34.9" y="126.5" font-size="24.2" fill="#131722" style="white-space:pre" textLength="75.88" lengthAdjust="spacingAndGlyphs">Pin Bar</text>
<text x="124.98" y="126.5" font-size="24.2" fill="#4caf50" style="white-space:pre" textLength="85.14" lengthAdjust="spacingAndGlyphs">0.00000</text>
<text x="223.78" y="126.5" font-size="24.2" fill="#ff5252" style="white-space:pre" textLength="85.04" lengthAdjust="spacingAndGlyphs">0.00000</text>
<text x="34.66" y="160.3" font-size="24.2" fill="#131722" style="white-space:pre" textLength="108.53" lengthAdjust="spacingAndGlyphs">InSide Bar</text>
<text x="157.31" y="160.3" font-size="24.2" fill="#4caf50" style="white-space:pre" textLength="84.8" lengthAdjust="spacingAndGlyphs">1.00000</text>
<text x="256.28" y="160.3" font-size="24.2" fill="#f44336" style="white-space:pre" textLength="85.14" lengthAdjust="spacingAndGlyphs">0.00000</text>
<text x="35.87" y="194.5" font-size="24.2" fill="#131722" style="white-space:pre" textLength="55.41" lengthAdjust="spacingAndGlyphs">5 Bar</text>
<text x="105.48" y="194.5" font-size="24.2" fill="#4caf50" style="white-space:pre" textLength="84.73" lengthAdjust="spacingAndGlyphs">0.00000</text>
<text x="203.98" y="194.5" font-size="24.2" fill="#f44336" style="white-space:pre" textLength="84.94" lengthAdjust="spacingAndGlyphs">0.00000</text>
<text x="34.85" y="228.7" font-size="24.2" fill="#131722" style="white-space:pre" textLength="284.61" lengthAdjust="spacingAndGlyphs">Performance Table - Forex</text>
<text x="36.7" y="262.5" font-size="24.2" fill="#131722" style="white-space:pre" textLength="67.09" lengthAdjust="spacingAndGlyphs">Weeks</text>
<g transform="translate(20,1621.8) scale(1.112,1.085)" fill="#131722"><path d="M14 22H7V11H0V4h14v18zM28 22h-8l7.5-18h8L28 22z"/><circle cx="20" cy="8" r="4"/></g>
<text x="66.44" y="1645.6" font-size="27" fill="#131722" style="white-space:pre" textLength="139.5" lengthAdjust="spacingAndGlyphs">TradingView</text>
</svg>
</body></html>
